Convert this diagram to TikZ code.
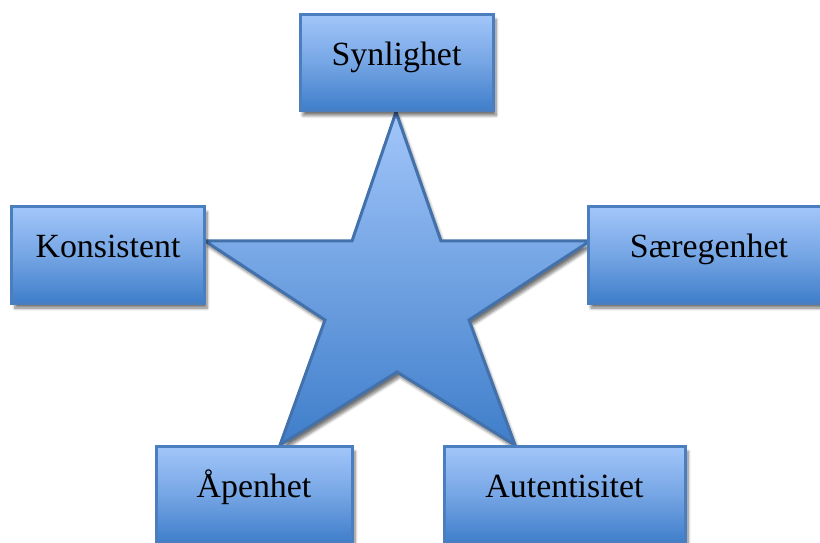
\documentclass[tikz,border=0pt]{standalone}
\usepackage{fontspec}
\setmainfont{Liberation Serif}
\usetikzlibrary{shadows,shadows.blur}

\definecolor{boxtop}{HTML}{A2C6FA}
\definecolor{boxbot}{HTML}{3F7ECA}
\definecolor{boxline}{HTML}{4A7EBE}

\tikzset{
  softshadow/.style={blur shadow={shadow xshift=3bp, shadow yshift=-5bp,
      shadow blur steps=6, shadow blur radius=3bp, shadow opacity=55}},
  valuebox/.style={rectangle, draw=boxline, line width=3bp,
      top color=boxtop, bottom color=boxbot, middle color=boxtop!55!boxbot,
      softshadow, minimum height=96bp, inner sep=0pt,
      text height=20bp, text depth=14bp,
      font=\fontsize{34}{39}\selectfont, text=black},
  starshape/.style={draw=boxline!90!black, line width=3bp, line join=miter,
      top color=boxtop, bottom color=boxbot, softshadow}
}

\begin{document}
\begin{tikzpicture}[x=1bp, y=-1bp]
  \useasboundingbox (0,0) rectangle (820,543);

  % the five-pointed star in the middle
  \coordinate (p1) at (396,112);
  \coordinate (q1) at (441,241);
  \coordinate (p2) at (590,241);
  \coordinate (q2) at (469,320);
  \coordinate (p3) at (515,445);
  \coordinate (q3) at (397,372);
  \coordinate (p4) at (280,445);
  \coordinate (q4) at (325,320);
  \coordinate (p5) at (205,241);
  \coordinate (q5) at (352,241);
  \path[starshape] (p1) -- (q1) -- (p2) -- (q2) -- (p3) -- (q3)
      -- (p4) -- (q4) -- (p5) -- (q5) -- cycle;

  % one box at each point of the star
  \node[valuebox, minimum width=193bp] (syn)  at (396.5,62.5) {Synlighet};
  \node[valuebox, minimum width=192bp] (kon)  at (108,255)   {Konsistent};
  \node[valuebox, minimum width=242bp] (saer) at (709,255)   {Særegenhet};
  \node[valuebox, minimum width=196bp] (apen) at (254,494.5) {Åpenhet};
  \node[valuebox, minimum width=241bp] (aut)  at (564.5,494.5) {Autentisitet};
\end{tikzpicture}
\end{document}
